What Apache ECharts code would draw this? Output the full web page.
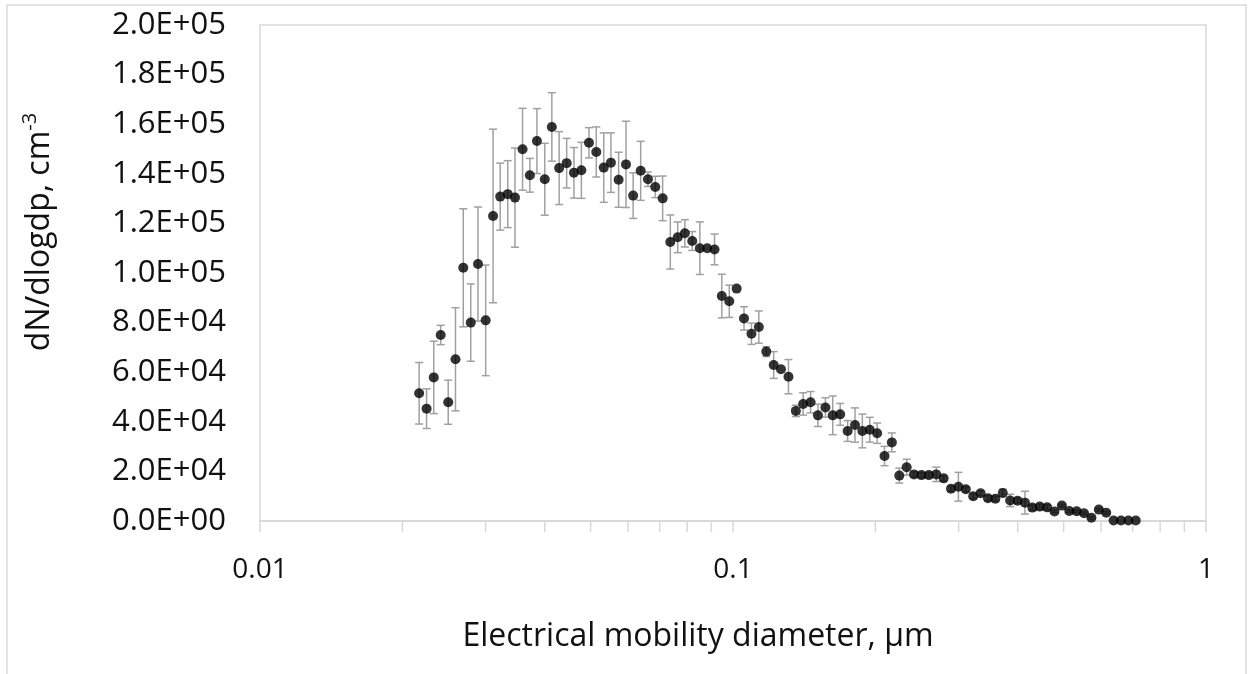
<!DOCTYPE html>
<html>
<head>
<meta charset="utf-8">
<script src="https://cdn.jsdelivr.net/npm/echarts@6/dist/echarts.min.js"></script>
<style>
html, body { margin: 0; padding: 0; background: #fff; }
#chart { width: 1250px; height: 674px; }
</style>
</head>
<body>
<div id="chart"></div>
<script>
// electrical mobility diameter, um (SMPS channels, 64 per decade)
var diameters = [
    0.0217, 0.0225, 0.0233, 0.0241, 0.0250, 0.0259, 0.0269, 0.0279, 0.0289, 0.0300,
    0.0311, 0.0322, 0.0334, 0.0346, 0.0359, 0.0372, 0.0385, 0.0400, 0.0414, 0.0429,
    0.0445, 0.0461, 0.0478, 0.0496, 0.0514, 0.0533, 0.0552, 0.0573, 0.0594, 0.0615,
    0.0638, 0.0661, 0.0685, 0.0710, 0.0737, 0.0764, 0.0791, 0.0820, 0.0851, 0.0882,
    0.0914, 0.0947, 0.0982, 0.1018, 0.1055, 0.1094, 0.1134, 0.1176, 0.1219, 0.1263,
    0.1310, 0.1358, 0.1407, 0.1459, 0.1512, 0.1568, 0.1625, 0.1685, 0.1747, 0.1811,
    0.1877, 0.1946, 0.2017, 0.2091, 0.2167, 0.2247, 0.2329, 0.2414, 0.2503, 0.2595,
    0.2690, 0.2788, 0.2890, 0.2996, 0.3106, 0.3220, 0.3338, 0.3460, 0.3587, 0.3718,
    0.3854, 0.3995, 0.4142, 0.4294, 0.4451, 0.4614, 0.4783, 0.4958, 0.5140, 0.5328,
    0.5523, 0.5725, 0.5935, 0.6153, 0.6378, 0.6612, 0.6854, 0.7105
];

// dN/dlogdp, cm-3
var dNdlogdp = [
    51500, 45300, 57900, 75000, 47900, 65200, 102100, 80000, 103600, 80900,
    123000, 130800, 131800, 130400, 149900, 139400, 153200, 137800, 158900, 142300,
    144300, 140400, 141400, 152500, 148800, 142500, 144500, 137600, 143800, 131200,
    141200, 137800, 134700, 130100, 112500, 114400, 116000, 112900, 110000, 110000,
    109500, 90700, 88600, 93700, 81700, 75500, 78200, 68300, 62900, 61200,
    58200, 44400, 47200, 47900, 42600, 45800, 42600, 43000, 36300, 38700,
    36300, 36800, 35400, 26200, 31700, 18300, 21700, 18800, 18500, 18500,
    18800, 17200, 13000, 13800, 12800, 10000, 11200, 9200, 9000, 11300,
    8300, 8200, 7400, 5400, 5800, 5500, 3800, 6200, 4000, 3900,
    3100, 1300, 4600, 3300, 200, 200, 200, 200
];

// error bar half length (+/-)
var errors = [
    12400, 8000, 14600, 3900, 8900, 20800, 23800, 15600, 23000, 22300,
    35000, 13500, 13500, 20000, 16500, 6800, 13100, 14500, 13800, 14700,
    10000, 10200, 11300, 6100, 10100, 14000, 12000, 11100, 17400, 9200,
    11900, 2900, 4300, 9000, 10900, 6200, 5500, 3800, 10600, 0,
    6200, 8800, 6500, 0, 4700, 4300, 6500, 2000, 5400, 0,
    6900, 2300, 4500, 4300, 4500, 3900, 7800, 4400, 4200, 6900,
    6800, 5000, 4100, 3900, 3800, 3000, 3200, 1000, 1000, 1000,
    2900, 1000, 1000, 5800, 1000, 1000, 1000, 1000, 1000, 1500,
    2500, 1000, 4600, 1000, 1000, 1000, 500, 500, 500, 500,
    500, 500, 500, 500, 0, 0, 0, 0
];

var minorTicks = [0.02, 0.03, 0.04, 0.05, 0.06, 0.07, 0.08, 0.09,
                  0.2, 0.3, 0.4, 0.5, 0.6, 0.7, 0.8, 0.9];

var xTitle = 'Electrical mobility diameter, \u00b5m';
var yTitle = 'dN/dlogdp, cm';

var textColor = '#111';
var lineGray = '#d9d9d9';
var font = '"Open Sans", sans-serif';

function sciLabel(v) {
    if (v === 0) return '0.0E+00';
    var e = Math.floor(Math.log10(v) + 1e-9);
    var m = v / Math.pow(10, e);
    var s = e < 0 ? '-' : '+';
    var ae = Math.abs(e);
    return m.toFixed(1) + 'E' + s + (ae < 10 ? '0' + ae : ae);
}

var points = diameters.map(function (d, i) {
    return [d, dNdlogdp[i]];
});
var bars = diameters.map(function (d, i) {
    return [d, dNdlogdp[i] - errors[i], dNdlogdp[i] + errors[i]];
});

var chart = echarts.init(document.getElementById('chart'));

var options = {
    animation: false,
    backgroundColor: '#fff',
    grid: {
        left: 260,
        right: 44,
        top: 25,
        bottom: 153,
        show: true,
        borderColor: lineGray,
        borderWidth: 1.5
    },
    graphic: [
        {
            type: 'rect',
            shape: { x: 7, y: 5, width: 1239, height: 700 },
            style: { fill: 'none', stroke: lineGray, lineWidth: 1.5 },
            silent: true
        },
        {
            type: 'text',
            x: 40,
            y: 232,
            rotation: Math.PI / 2,
            style: {
                text: '{a|' + yTitle + '}{s|-3}',
                align: 'center',
                verticalAlign: 'middle',
                fill: textColor,
                rich: {
                    a: { fontSize: 32, fontFamily: font, fill: textColor, lineHeight: 40 },
                    s: { fontSize: 20, fontFamily: font, fill: textColor, verticalAlign: 'top', lineHeight: 40 }
                }
            },
            silent: true
        }
    ],
    xAxis: {
        type: 'log',
        logBase: 10,
        min: 0.01,
        max: 1,
        name: xTitle,
        nameLocation: 'middle',
        nameGap: 100,
        nameTextStyle: { fontSize: 32, fontFamily: font, color: textColor, padding: [0, 70, 0, 0] },
        axisLine: { show: true, lineStyle: { color: lineGray, width: 2 } },
        axisTick: { show: true, length: 11, lineStyle: { color: lineGray, width: 1.5 } },
        axisLabel: {
            margin: 35,
            fontSize: 28,
            fontFamily: font,
            color: textColor,
            formatter: function (v) { return String(Number(v.toPrecision(3))); }
        },
        splitLine: { show: false }
    },
    yAxis: {
        type: 'value',
        min: 0,
        max: 200000,
        interval: 20000,
        axisLine: { show: false },
        axisTick: { show: false },
        axisLabel: {
            margin: 34,
            fontSize: 31,
            fontFamily: font,
            color: textColor,
            formatter: sciLabel
        },
        splitLine: { show: false }
    },
    series: [
        {
            // minor ticks of the log axis
            type: 'custom',
            silent: true,
            clip: false,
            data: minorTicks.map(function (v) { return [v, 0]; }),
            renderItem: function (params, api) {
                var p = api.coord([api.value(0), 0]);
                return {
                    type: 'line',
                    shape: { x1: p[0], y1: p[1], x2: p[0], y2: p[1] + 11 },
                    style: { stroke: lineGray, lineWidth: 1.5 }
                };
            }
        },
        {
            // error bars
            type: 'custom',
            silent: true,
            z: 2,
            encode: { x: 0, y: [1, 2] },
            data: bars,
            renderItem: function (params, api) {
                var lo = api.coord([api.value(0), api.value(1)]);
                var hi = api.coord([api.value(0), api.value(2)]);
                if (Math.abs(lo[1] - hi[1]) < 1) return;
                var w = 4;
                var st = { stroke: '#a0a0a0', lineWidth: 1.5 };
                return {
                    type: 'group',
                    children: [
                        { type: 'line', shape: { x1: hi[0], y1: hi[1], x2: lo[0], y2: lo[1] }, style: st },
                        { type: 'line', shape: { x1: hi[0] - w, y1: hi[1], x2: hi[0] + w, y2: hi[1] }, style: st },
                        { type: 'line', shape: { x1: lo[0] - w, y1: lo[1], x2: lo[0] + w, y2: lo[1] }, style: st }
                    ]
                };
            }
        },
        {
            type: 'scatter',
            z: 3,
            data: points,
            symbol: 'circle',
            symbolSize: 10,
            itemStyle: { color: '#000' }
        }
    ]
};

chart.setOption(options);
</script>
</body>
</html>
